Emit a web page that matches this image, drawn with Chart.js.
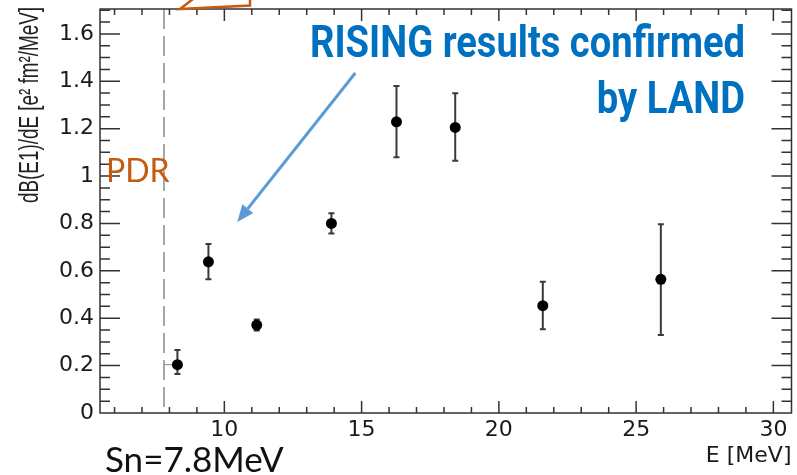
<!DOCTYPE html>
<html><head><meta charset="utf-8">
<script src="https://cdn.jsdelivr.net/npm/chart.js@4/dist/chart.umd.min.js"></script>
<style>html,body{margin:0;padding:0;background:#fff}#wrap{width:797px;height:475px}</style>
</head><body><div id="wrap"><canvas id="c" width="797" height="475"></canvas></div>
<script>
// ---- data ----
const energies  = [8.29, 9.42, 11.18, 13.90, 16.27, 18.41, 21.60, 25.90];
const values    = [0.204, 0.638, 0.371, 0.800, 1.229, 1.205, 0.453, 0.564];
const errUpper  = [0.266, 0.713, 0.395, 0.843, 1.380, 1.349, 0.554, 0.797];
const errLower  = [0.165, 0.564, 0.348, 0.758, 1.079, 1.065, 0.353, 0.329];
const xErrLeft  = [7.80, null, null, null, null, null, null, null];
const separationEnergy = 7.8;
const xTicks = [10, 15, 20, 25, 30];
const xTickLabels = ['10', '15', '20', '25', '30'];
const yTicks = [0, 0.2, 0.4, 0.6, 0.8, 1.0, 1.2, 1.4, 1.6];
const yTickLabels = ['0', '0.2', '0.4', '0.6', '0.8', '1', '1.2', '1.4', '1.6'];
const xTitle = 'E [MeV]';
const yTitle = 'dB(E1)/dE [e\u00B2 fm\u00B2/MeV]';
const annotationTitle = ['RISING results confirmed', 'by LAND'];
const pdrLabel = 'PDR';
const snLabel = 'Sn=7.8MeV';

const X_MIN = 5.47, X_MAX = 30.66, Y_MIN = 0, Y_MAX = 1.705;
const AXIS = '#333';
const TICKFONT = 'DejaVu Sans';

const decor = {
  id: 'decor',
  beforeDatasetsDraw(chart) {
    const {ctx, chartArea: a, scales: {x, y}} = chart;
    ctx.save();
    // separation energy dashed line
    ctx.strokeStyle = '#8a8a8a'; ctx.lineWidth = 1.5; ctx.setLineDash([20, 7]);
    const sx = x.getPixelForValue(separationEnergy);
    ctx.beginPath(); ctx.moveTo(sx, a.top); ctx.lineTo(sx, a.bottom); ctx.stroke();
    ctx.setLineDash([]);
    // error bars
    ctx.strokeStyle = '#3a3a3a'; ctx.lineWidth = 2;
    energies.forEach((e, i) => {
      const px = x.getPixelForValue(e);
      const yt = y.getPixelForValue(errUpper[i]);
      const yb = y.getPixelForValue(errLower[i]);
      ctx.beginPath(); ctx.moveTo(px, yt); ctx.lineTo(px, yb); ctx.stroke();
      ctx.beginPath(); ctx.moveTo(px - 3, yt); ctx.lineTo(px + 3, yt);
      ctx.moveTo(px - 3, yb); ctx.lineTo(px + 3, yb); ctx.stroke();
      if (xErrLeft[i] !== null) {
        ctx.save(); ctx.strokeStyle = '#999'; ctx.lineWidth = 1.2;
        const py = y.getPixelForValue(values[i]);
        ctx.beginPath(); ctx.moveTo(x.getPixelForValue(xErrLeft[i]), py); ctx.lineTo(px, py); ctx.stroke();
        ctx.restore();
      }
    });
    ctx.restore();
  },
  afterDraw(chart) {
    const {ctx, chartArea: a, scales: {x, y}} = chart;
    ctx.save();
    // frame
    ctx.strokeStyle = AXIS; ctx.lineWidth = 1.5;
    ctx.strokeRect(a.left, a.top, a.right - a.left, a.bottom - a.top);
    // inward ticks
    ctx.beginPath();
    for (let v = 6; v <= 30; v++) {
      const px = x.getPixelForValue(v);
      const len = v % 5 === 0 ? 12 : 6;
      ctx.moveTo(px, a.bottom); ctx.lineTo(px, a.bottom - len);
      ctx.moveTo(px, a.top); ctx.lineTo(px, a.top + len);
    }
    for (let k = 1; k <= 34; k++) {
      const v = k * 0.05;
      if (v > Y_MAX) break;
      const py = y.getPixelForValue(v);
      const len = k % 4 === 0 ? 20 : 10;
      ctx.moveTo(a.left, py); ctx.lineTo(a.left + len, py);
      ctx.moveTo(a.right, py); ctx.lineTo(a.right - len, py);
    }
    ctx.stroke();

    // y-axis title (rotated, compressed along its length)
    ctx.save();
    ctx.fillStyle = '#222';
    ctx.font = '27px "Liberation Sans"';
    const tw = ctx.measureText(yTitle).width;
    ctx.translate(31, 7); ctx.rotate(-Math.PI / 2);
    ctx.scale(196 / tw, 1);
    ctx.textAlign = 'right'; ctx.textBaseline = 'middle';
    ctx.fillText(yTitle, 0, 0);
    ctx.restore();

    // blue arrow (data coords)
    const x0 = x.getPixelForValue(14.77), y0 = y.getPixelForValue(1.435);
    const x1 = x.getPixelForValue(10.47), y1 = y.getPixelForValue(0.806);
    const ang = Math.atan2(y1 - y0, x1 - x0);
    const hl = 17, hw = 7;
    const bx = x1 - hl * Math.cos(ang), by = y1 - hl * Math.sin(ang);
    ctx.strokeStyle = '#5B9BD5'; ctx.fillStyle = '#5B9BD5'; ctx.lineWidth = 3;
    ctx.beginPath(); ctx.moveTo(x0, y0); ctx.lineTo(bx, by); ctx.stroke();
    ctx.beginPath();
    ctx.moveTo(x1, y1);
    ctx.lineTo(bx + hw * Math.sin(ang), by - hw * Math.cos(ang));
    ctx.lineTo(bx - hw * Math.sin(ang), by + hw * Math.cos(ang));
    ctx.closePath(); ctx.fill();

    // RISING text (condensed bold)
    ctx.fillStyle = '#0070C0';
    ctx.font = 'bold 45px Roboto';
    ctx.textBaseline = 'alphabetic';
    const w1 = ctx.measureText(annotationTitle[0]).width;
    const s = 435 / w1;
    ctx.save(); ctx.translate(310, 57); ctx.scale(s, 1);
    ctx.textAlign = 'left'; ctx.fillText(annotationTitle[0], 0, 0); ctx.restore();
    ctx.save(); ctx.translate(745, 113); ctx.scale(s, 1);
    ctx.textAlign = 'right'; ctx.fillText(annotationTitle[1], 0, 0); ctx.restore();

    // PDR
    ctx.fillStyle = '#C55A11'; ctx.font = '32px Lato'; ctx.textAlign = 'left';
    ctx.fillText(pdrLabel, 106, 182);
    // orange callout fragment at top
    ctx.strokeStyle = '#C55A11'; ctx.lineWidth = 2.5;
    ctx.beginPath();
    ctx.moveTo(193, -1); ctx.lineTo(180, 9); ctx.lineTo(250, 5.5); ctx.lineTo(250, -1);
    ctx.stroke();
    // Sn label
    ctx.fillStyle = '#111'; ctx.font = '35px Lato';
    ctx.fillText(snLabel, 105, 472);
    ctx.restore();
  }
};

new Chart(document.getElementById('c'), {
  type: 'scatter',
  data: { datasets: [{
    data: energies.map((e, i) => ({x: e, y: values[i]})),
    backgroundColor: '#000', borderColor: '#000',
    pointRadius: 5.5, pointHoverRadius: 5.5, borderWidth: 0
  }]},
  options: {
    responsive: false, animation: false,
    layout: { padding: { top: 9, right: 2, left: 0, bottom: 0 } },
    plugins: { legend: { display: false }, tooltip: { enabled: false } },
    scales: {
      x: {
        type: 'linear', min: X_MIN, max: X_MAX,
        grid: { display: false, drawTicks: false }, border: { display: false },
        afterBuildTicks: s => { s.ticks = xTicks.map(v => ({value: v})); },
        afterFit: s => { s.height = 62; s.paddingLeft = 0; s.paddingRight = 0; },
        ticks: { padding: 4, color: '#1a1a1a', font: {family: TICKFONT, size: 22}, maxRotation: 0, autoSkip: false,
                 callback: v => xTickLabels[xTicks.indexOf(v)] },
        title: { display: true, text: xTitle, align: 'end', color: '#1a1a1a',
                 font: {family: TICKFONT, size: 22}, padding: {top: 0, bottom: 6} }
      },
      y: {
        type: 'linear', min: Y_MIN, max: Y_MAX,
        grid: { display: false, drawTicks: false }, border: { display: false },
        afterBuildTicks: s => { s.ticks = yTicks.map(v => ({value: v})); },
        afterFit: s => { s.width = 100; s.paddingTop = 0; s.paddingBottom = 0; },
        ticks: { padding: 6, color: '#1a1a1a', font: {family: TICKFONT, size: 22}, autoSkip: false,
                 callback: v => yTickLabels[yTicks.indexOf(v)] },
        title: { display: false }
      }
    }
  },
  plugins: [decor]
});
</script>
</body></html>
